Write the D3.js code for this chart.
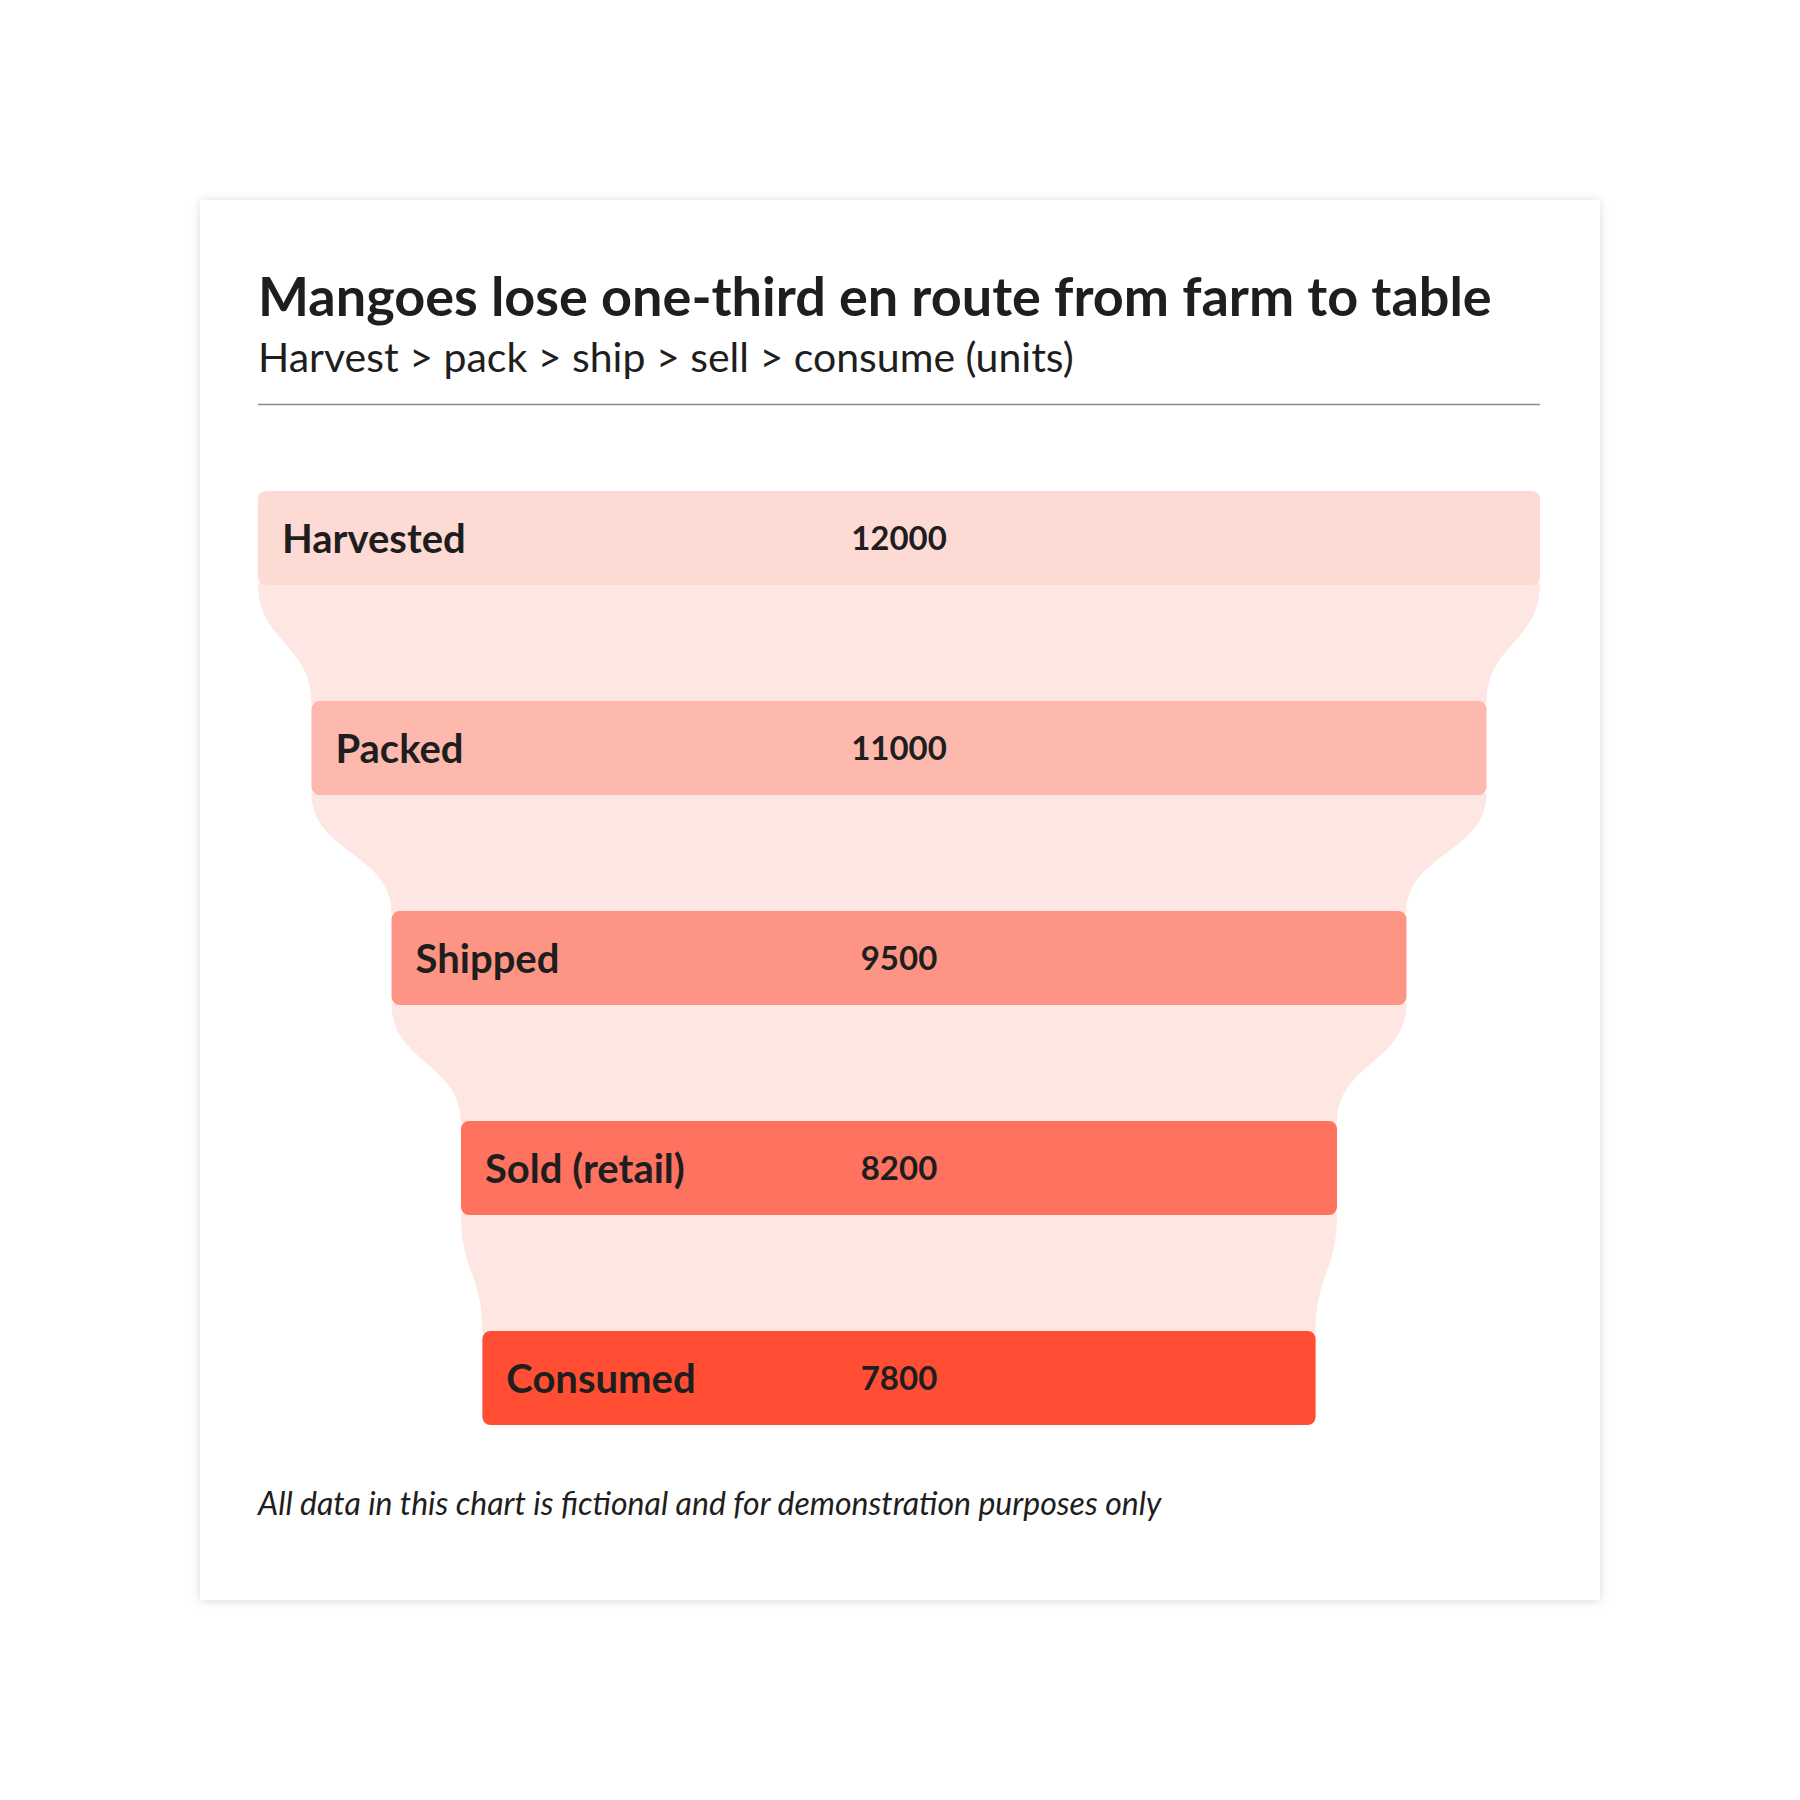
<!DOCTYPE html>
<html>
<head>
<meta charset="utf-8">
<script src="https://cdn.jsdelivr.net/npm/d3@7"></script>
<style>
  html, body { margin: 0; padding: 0; background: #ffffff; }
  svg { display: block; }
</style>
</head>
<body>
<svg id="chart"></svg>
<script>
const stages = ['Harvested', 'Packed', 'Shipped', 'Sold (retail)', 'Consumed'];
const units = [12000, 11000, 9500, 8200, 7800];
const stageColors = ['#fddad4', '#fdb9ae', '#fe9584', '#ff7260', '#ff4e33'];

const titleText = 'Mangoes lose one-third en route from farm to table';
const subtitleText = 'Harvest > pack > ship > sell > consume (units)';
const noteText = 'All data in this chart is fictional and for demonstration purposes only';

const W = 1800, H = 1800;
const card = {x: 200, y: 200, w: 1400, h: 1400};
const plotLeft = 258, plotRight = 1540;
const centerX = (plotLeft + plotRight) / 2;
const font = 'Lato, "Noto Sans", sans-serif';

const svg = d3.select('#chart').attr('width', W).attr('height', H);

// card + shadow ////////////////////////
const defs = svg.append('defs');
const f = defs.append('filter').attr('id', 'shadow')
  .attr('x', '-5%').attr('y', '-5%').attr('width', '110%').attr('height', '110%');
f.append('feDropShadow')
  .attr('dx', 0).attr('dy', 1)
  .attr('stdDeviation', 5)
  .attr('flood-color', '#000')
  .attr('flood-opacity', 0.14);

svg.append('rect')
  .attr('x', card.x).attr('y', card.y)
  .attr('width', card.w).attr('height', card.h)
  .attr('fill', '#ffffff')
  .attr('filter', 'url(#shadow)');

// header ///////////////////////////////
svg.append('text')
  .text(titleText)
  .attr('x', plotLeft).attr('y', 316)
  .attr('font-family', font).attr('font-size', 54).attr('font-weight', 700)
  .attr('fill', '#1e1e1e');

svg.append('text')
  .text(subtitleText)
  .attr('x', plotLeft).attr('y', 372)
  .attr('font-family', font).attr('font-size', 41).attr('font-weight', 400)
  .attr('fill', '#1e1e1e');

svg.append('line')
  .attr('x1', plotLeft).attr('x2', plotRight)
  .attr('y1', 404.5).attr('y2', 404.5)
  .attr('stroke', '#8a8a8a').attr('stroke-width', 1.5);

// scales ///////////////////////////////
const x = d3.scaleLinear().domain([0, d3.max(units)]).range([0, plotRight - plotLeft]);
const y = d3.scaleBand().domain(stages).range([491, 1425]).paddingInner(0.552);
const bw = y.bandwidth();

const rows = stages.map((s, i) => ({
  stage: s,
  value: units[i],
  color: stageColors[i],
  x0: centerX - x(units[i]) / 2,
  x1: centerX + x(units[i]) / 2,
  top: y(s)
}));

// connectors ///////////////////////////
const links = d3.pairs(rows);
svg.selectAll('.connector')
  .data(links)
  .enter()
  .append('path')
  .attr('class', 'connector')
  .attr('fill', '#fee6e2')
  .attr('d', ([a, b]) => {
    const t = a.top + bw - 2;
    const bt = b.top + 2;
    const m = (t + bt) / 2;
    const p = d3.path();
    p.moveTo(a.x0, t);
    p.lineTo(a.x1, t);
    p.bezierCurveTo(a.x1, m, b.x1, m, b.x1, bt);
    p.lineTo(b.x0, bt);
    p.bezierCurveTo(b.x0, m, a.x0, m, a.x0, t);
    p.closePath();
    return p.toString();
  });

// bars /////////////////////////////////
svg.selectAll('.bar')
  .data(rows)
  .enter()
  .append('rect')
  .attr('class', 'bar')
  .attr('x', d => d.x0)
  .attr('y', d => d.top)
  .attr('width', d => d.x1 - d.x0)
  .attr('height', bw)
  .attr('rx', 8)
  .attr('fill', d => d.color);

svg.selectAll('.stage-label')
  .data(rows)
  .enter()
  .append('text')
  .attr('class', 'stage-label')
  .text(d => d.stage)
  .attr('x', d => d.x0 + 24)
  .attr('y', d => d.top + bw / 2 + 15)
  .attr('font-family', font).attr('font-size', 40).attr('font-weight', 700)
  .attr('fill', '#1e1e1e');

svg.selectAll('.value-label')
  .data(rows)
  .enter()
  .append('text')
  .attr('class', 'value-label')
  .text(d => d.value)
  .attr('x', centerX)
  .attr('y', d => d.top + bw / 2 + 12)
  .attr('text-anchor', 'middle')
  .attr('font-family', font).attr('font-size', 33).attr('font-weight', 700)
  .attr('fill', '#1e1e1e');

// footnote /////////////////////////////
svg.append('text')
  .text(noteText)
  .attr('x', plotLeft).attr('y', 1515)
  .attr('font-family', font).attr('font-size', 32).attr('font-style', 'italic')
  .attr('fill', '#1e1e1e');
</script>
</body>
</html>
